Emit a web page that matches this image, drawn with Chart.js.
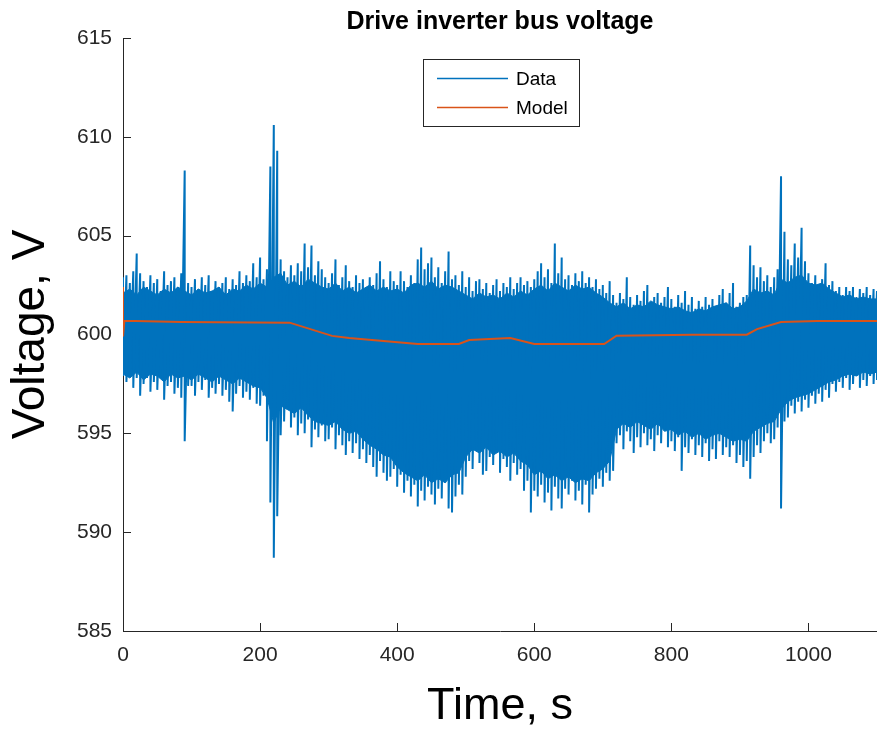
<!DOCTYPE html>
<html>
<head>
<meta charset="utf-8">
<script src="https://cdn.jsdelivr.net/npm/chart.js@4.4.1/dist/chart.umd.min.js"></script>
<style>
  html, body { margin: 0; padding: 0; background: #fff; }
</style>
</head>
<body>
<canvas id="chart" width="877" height="734"></canvas>
<script>
// measured signal, read as upper / lower extremes every 5 s
var sampleTime = [
  0, 5, 10, 15, 20, 25, 30, 35, 40, 45, 50, 55, 60, 65, 70, 75, 80, 85, 90, 95,
  100, 105, 110, 115, 120, 125, 130, 135, 140, 145, 150, 155, 160, 165, 170, 175, 180, 185, 190, 195,
  200, 205, 210, 215, 220, 225, 230, 235, 240, 245, 250, 255, 260, 265, 270, 275, 280, 285, 290, 295,
  300, 305, 310, 315, 320, 325, 330, 335, 340, 345, 350, 355, 360, 365, 370, 375, 380, 385, 390, 395,
  400, 405, 410, 415, 420, 425, 430, 435, 440, 445, 450, 455, 460, 465, 470, 475, 480, 485, 490, 495,
  500, 505, 510, 515, 520, 525, 530, 535, 540, 545, 550, 555, 560, 565, 570, 575, 580, 585, 590, 595,
  600, 605, 610, 615, 620, 625, 630, 635, 640, 645, 650, 655, 660, 665, 670, 675, 680, 685, 690, 695,
  700, 705, 710, 715, 720, 725, 730, 735, 740, 745, 750, 755, 760, 765, 770, 775, 780, 785, 790, 795,
  800, 805, 810, 815, 820, 825, 830, 835, 840, 845, 850, 855, 860, 865, 870, 875, 880, 885, 890, 895,
  900, 905, 910, 915, 920, 925, 930, 935, 940, 945, 950, 955, 960, 965, 970, 975, 980, 985, 990, 995,
  1000, 1005, 1010, 1015, 1020, 1025, 1030, 1035, 1040, 1045, 1050, 1055, 1060, 1065, 1070, 1075, 1080, 1085, 1090, 1095, 1100
];
var dataHigh = [
  602.9, 603.0, 602.6, 603.2, 604.1, 603.1, 602.7, 602.4, 603.0, 602.6, 602.8, 602.2, 603.2, 602.5, 602.7, 602.9, 602.4, 603.1, 608.3, 602.6,
  602.4, 602.8, 602.3, 602.9, 602.5, 603.0, 602.2, 602.7, 602.4, 602.6, 602.9, 602.3, 602.8, 602.5, 603.2, 602.6, 603.0, 602.7, 603.6, 602.9,
  603.9, 602.8, 603.3, 608.5, 610.6, 609.3, 603.8, 603.2, 602.9, 603.5, 603.0, 603.6, 603.2, 604.6, 603.4, 604.5, 603.0, 603.7, 603.3, 602.9,
  602.6, 603.1, 603.8, 602.5, 602.9, 603.5, 602.7, 602.4, 603.0, 602.6, 602.8, 602.3, 602.9, 602.5, 603.1, 603.7, 602.8, 602.4, 603.2, 602.7,
  602.5, 603.2, 602.7, 602.4, 603.0, 602.6, 603.8, 604.4, 603.3, 603.6, 603.9, 602.9, 603.4, 602.6, 603.2, 604.2, 602.8, 603.0, 602.5, 603.2,
  602.4, 602.9, 602.2, 602.7, 602.8, 602.3, 602.6, 602.1, 602.5, 602.8, 602.2, 602.6, 602.4, 602.9, 602.3, 602.6, 602.9, 602.5, 602.7, 602.4,
  602.8, 603.2, 603.6, 602.9, 603.3, 602.6, 604.6, 603.1, 603.9, 602.8, 603.0, 602.5, 603.1, 602.7, 603.2, 602.6, 602.9, 602.4, 602.8, 602.3,
  602.5, 602.1, 602.7, 602.0, 601.6, 602.1, 601.8, 602.9, 601.9, 601.5, 602.0, 601.7, 602.2, 602.5, 601.6, 601.9, 602.1, 601.6, 601.9, 602.4,
  601.8, 601.4, 602.0, 601.6, 602.2, 601.5, 601.9, 601.3, 601.7, 601.4, 601.9, 601.5, 601.8, 601.4, 602.0, 602.3, 601.6, 602.1, 602.6, 601.4,
  601.6, 601.9, 602.0, 604.5, 603.5, 602.9, 603.4, 602.7, 603.0, 602.4, 602.9, 603.3, 608.0, 605.2, 603.8, 603.5, 604.6, 603.9, 605.4, 603.7,
  603.1, 602.6, 603.0, 602.4, 602.8, 603.6, 602.5, 602.7, 602.2, 602.4, 602.0, 602.4, 602.2, 602.4, 601.9, 602.3, 602.1, 602.4, 602.0, 602.3, 602.2
];
var dataLow = [
  597.9, 597.6, 598.0, 597.3, 597.8, 596.9, 597.5, 597.8, 597.1, 597.6, 597.2, 597.8, 596.7, 597.4, 597.6, 597.0, 597.3, 596.8, 594.6, 597.4,
  597.4, 596.9, 597.6, 597.2, 597.7, 596.8, 597.3, 597.0, 597.5, 596.9, 597.2, 596.6, 596.1, 597.0, 597.4, 596.8, 597.1, 596.7, 597.3, 596.5,
  596.4, 596.9, 594.6, 591.5, 588.7, 590.8, 594.9, 595.6, 596.2, 595.3, 595.8, 594.9, 595.5, 595.0, 595.7, 594.3, 595.2, 594.8, 595.4, 594.6,
  594.7, 595.3, 594.2, 594.9, 594.4, 593.9, 594.6, 594.0, 594.5, 593.7, 594.2, 593.5, 593.9, 593.3, 592.8, 593.6, 593.0, 592.6, 592.8, 593.2,
  592.3, 592.9, 592.0, 592.6, 591.8, 592.4, 591.3, 592.1, 591.6, 592.3, 591.9, 591.4, 592.2, 591.7, 592.5, 591.2, 591.0, 591.8, 592.4, 591.9,
  592.8, 593.6, 593.2, 594.1, 593.5, 592.9, 593.1, 593.8, 593.4, 594.2, 593.0, 593.7, 593.3, 592.6, 593.5, 592.9, 593.2, 592.1, 592.6, 591.0,
  592.1, 591.8, 592.4, 591.5, 592.0, 591.1, 592.3, 591.7, 591.2, 592.2, 591.9, 592.6, 591.6, 592.1, 591.4, 592.4, 591.0, 591.9, 592.2, 592.7,
  592.3, 593.0, 592.6, 593.1, 594.5, 594.9, 594.2, 595.1, 594.6, 594.0, 594.8, 594.3, 595.0, 594.4, 594.7, 594.1, 594.9, 594.5, 595.2, 594.3,
  594.6, 594.1, 594.8, 593.1, 594.3, 594.0, 594.7, 593.9, 594.4, 593.8, 594.5, 593.6, 594.2, 593.7, 594.6, 593.9, 594.3, 593.8, 594.4, 593.5,
  593.9, 593.3, 593.6, 592.7, 593.8, 594.4, 594.0, 594.6, 595.0, 594.5, 594.7, 595.3, 591.2, 595.6, 595.8, 596.4, 596.0, 596.6, 596.1, 596.7,
  596.3, 596.9, 596.5, 597.0, 596.6, 597.2, 596.8, 597.5, 597.1, 597.6, 597.3, 597.8, 597.2, 597.5, 597.9, 597.3, 597.7, 597.4, 597.9, 597.5, 597.7
];

// edges of the solid dense part of the signal, every 10 s
var coreTime = [
  0, 10, 20, 30, 40, 50, 60, 70, 80, 90,
  100, 110, 120, 130, 140, 150, 160, 170, 180, 190,
  200, 210, 220, 230, 240, 250, 260, 270, 280, 290,
  300, 310, 320, 330, 340, 350, 360, 370, 380, 390,
  400, 410, 420, 430, 440, 450, 460, 470, 480, 490,
  500, 510, 520, 530, 540, 550, 560, 570, 580, 590,
  600, 610, 620, 630, 640, 650, 660, 670, 680, 690,
  700, 710, 720, 730, 740, 750, 760, 770, 780, 790,
  800, 810, 820, 830, 840, 850, 860, 870, 880, 890,
  900, 910, 920, 930, 940, 950, 960, 970, 980, 990,
  1000, 1010, 1020, 1030, 1040, 1050, 1060, 1070, 1080, 1090, 1100
];
var coreHigh = [
  602.1, 602.3, 602.0, 602.4, 602.2, 602.0, 602.3, 602.1, 602.4, 602.2,
  602.0, 602.3, 602.1, 602.2, 602.4, 602.0, 602.3, 602.2, 602.5, 602.3,
  602.6, 602.4, 602.9, 603.1, 602.5, 602.7, 602.4, 602.8, 602.6, 602.4,
  602.3, 602.6, 602.2, 602.4, 602.1, 602.3, 602.5, 602.2, 602.4, 602.2,
  602.3, 602.1, 602.5, 602.6, 602.4, 602.7, 602.3, 602.5, 602.4, 602.2,
  602.0, 601.8, 602.1, 601.9, 602.0, 601.8, 602.1, 601.9, 602.2, 602.0,
  602.3, 602.5, 602.2, 602.6, 602.4, 602.2, 602.5, 602.3, 602.4, 602.1,
  601.9, 601.6, 601.4, 601.6, 601.3, 601.5, 601.4, 601.7, 601.5, 601.4,
  601.3, 601.4, 601.2, 601.1, 601.3, 601.2, 601.4, 601.5, 601.6, 601.3,
  601.4, 601.7, 602.3, 602.1, 602.2, 602.0, 602.8, 602.6, 602.9, 603.0,
  602.6, 602.5, 602.6, 602.3, 602.1, 601.9, 602.0, 601.8, 601.9, 601.8, 601.8
];
var coreLow = [
  598.0, 597.8, 598.1, 597.7, 598.0, 597.9, 597.6, 598.0, 597.8, 597.9,
  597.7, 598.0, 597.8, 597.6, 597.9, 597.7, 597.5, 597.8, 597.6, 597.4,
  597.3, 596.8, 595.5, 596.4, 596.2, 596.0, 596.3, 595.9, 595.6, 595.5,
  595.4, 595.6, 595.2, 595.0, 595.1, 594.7, 594.4, 594.2, 593.9, 593.8,
  593.3, 593.0, 592.8, 592.6, 592.9, 592.5, 592.7, 592.5, 592.9, 593.0,
  593.8, 594.2, 594.0, 594.3, 593.9, 594.1, 593.8, 594.0, 593.6, 593.4,
  592.9, 593.1, 592.7, 592.9, 592.6, 592.8, 592.5, 592.7, 592.6, 593.0,
  593.2, 593.6, 595.2, 595.5, 595.3, 595.6, 595.4, 595.2, 595.5, 595.1,
  595.2, 594.9, 595.1, 594.8, 595.0, 594.7, 594.9, 595.0, 594.8, 594.6,
  594.7, 594.6, 595.1, 595.3, 595.5, 595.6, 596.2, 596.6, 596.8, 596.9,
  597.0, 597.2, 597.4, 597.6, 597.7, 597.9, 598.0, 597.9, 598.1, 598.0, 598.1
];

var modelTime = [0, 0, 2, 85, 243, 305, 330, 430, 490, 505, 565, 600, 702, 720, 830, 910, 925, 960, 1013, 1100];
var modelVolt = [602.4, 599.9, 600.7, 600.63, 600.6, 599.93, 599.82, 599.52, 599.52, 599.72, 599.82, 599.52, 599.52, 599.94, 599.99, 599.99, 600.27, 600.63, 600.68, 600.68];

var xTicks = [0, 200, 400, 600, 800, 1000];
var yTicks = [585, 590, 595, 600, 605, 610, 615];

var blue = '#0072BD';
var orange = '#D95319';
var axisColor = '#262626';

Chart.defaults.font.family = "'Liberation Sans', Arial, Helvetica, sans-serif";

var dataPoints = [];
sampleTime.forEach(function (t, i) {
  dataPoints.push({x: t, y: dataHigh[i]});
  dataPoints.push({x: t, y: dataLow[i]});
});
var corePointsHigh = coreTime.map(function (t, i) { return {x: t, y: coreHigh[i]}; });
var corePointsLow = coreTime.map(function (t, i) { return {x: t, y: coreLow[i]}; });
var modelPoints = modelTime.map(function (t, i) { return {x: t, y: modelVolt[i]}; });

// MATLAB style ticks pointing into the plot
var innerTicks = {
  id: 'innerTicks',
  beforeDatasetsDraw: function (chart) {
    var ctx = chart.ctx, a = chart.chartArea;
    var xs = chart.scales.x, ys = chart.scales.y;
    ctx.save();
    ctx.strokeStyle = axisColor;
    ctx.lineWidth = 1;
    ctx.beginPath();
    xTicks.forEach(function (v) {
      var px = Math.round(xs.getPixelForValue(v)) + 0.5;
      ctx.moveTo(px, a.bottom);
      ctx.lineTo(px, a.bottom - 8);
    });
    yTicks.forEach(function (v) {
      var py = Math.round(ys.getPixelForValue(v)) + 0.5;
      ctx.moveTo(a.left, py);
      ctx.lineTo(a.left + 8, py);
    });
    ctx.stroke();
    ctx.restore();
  }
};

// boxed legend inside the axes
var boxLegend = {
  id: 'boxLegend',
  afterDraw: function (chart) {
    var ctx = chart.ctx;
    var rows = [{ds: 0, y: 78}, {ds: 1, y: 107}];
    ctx.save();
    ctx.fillStyle = '#fff';
    ctx.fillRect(423.5, 59.5, 156, 67);
    ctx.strokeStyle = axisColor;
    ctx.lineWidth = 1;
    ctx.strokeRect(423.5, 59.5, 156, 67);
    ctx.font = "19px 'Liberation Sans', Arial, sans-serif";
    ctx.textBaseline = 'middle';
    ctx.textAlign = 'left';
    rows.forEach(function (r) {
      var ds = chart.data.datasets[r.ds];
      ctx.strokeStyle = ds.borderColor;
      ctx.lineWidth = 1.5;
      ctx.beginPath();
      ctx.moveTo(437, r.y + 0.5);
      ctx.lineTo(508, r.y + 0.5);
      ctx.stroke();
      ctx.fillStyle = '#000';
      ctx.fillText(ds.label, 516, r.y + 2);
    });
    ctx.restore();
  }
};

var chart = new Chart('chart', {
  type: 'line',
  data: {
    datasets: [
      {
        label: 'Data',
        data: dataPoints,
        borderColor: blue,
        borderWidth: 2,
        pointRadius: 0,
        tension: 0,
        fill: false,
        order: 1
      },
      {
        label: 'Model',
        data: modelPoints,
        borderColor: orange,
        borderWidth: 2,
        pointRadius: 0,
        tension: 0,
        fill: false,
        order: 0
      },
      {
        label: 'core high',
        data: corePointsHigh,
        borderColor: blue,
        backgroundColor: blue,
        borderWidth: 1,
        pointRadius: 0,
        tension: 0,
        fill: '+1',
        order: 2
      },
      {
        label: 'core low',
        data: corePointsLow,
        borderColor: blue,
        borderWidth: 1,
        pointRadius: 0,
        tension: 0,
        fill: false,
        order: 2
      }
    ]
  },
  options: {
    responsive: false,
    animation: false,
    devicePixelRatio: 1,
    events: [],
    layout: {padding: 0},
    plugins: {
      legend: {display: false},
      tooltip: {enabled: false},
      title: {
        display: true,
        text: 'Drive inverter bus voltage',
        color: '#000',
        fullSize: false,
        font: {size: 25, weight: 'bold'},
        padding: {top: 7, bottom: 1}
      }
    },
    scales: {
      x: {
        type: 'linear',
        min: 0,
        max: 1100,
        grid: {display: false, drawTicks: false},
        border: {display: true, color: axisColor, width: 1},
        ticks: {
          color: axisColor,
          font: {size: 21},
          padding: 12,
          maxRotation: 0,
          autoSkip: false,
          callback: function (v) { return String(v); }
        },
        afterBuildTicks: function (s) { s.ticks = xTicks.map(function (v) { return {value: v}; }); },
        afterFit: function (s) { s.height = 103; },
        title: {display: true, text: 'Time, s', color: '#000', font: {size: 45}, padding: {top: 0, bottom: 0}}
      },
      y: {
        type: 'linear',
        min: 585,
        max: 615,
        grid: {display: false, drawTicks: false},
        border: {display: true, color: axisColor, width: 1},
        ticks: {
          color: axisColor,
          font: {size: 21},
          padding: 11,
          autoSkip: false,
          callback: function (v) { return String(v); }
        },
        afterBuildTicks: function (s) { s.ticks = yTicks.map(function (v) { return {value: v}; }); },
        afterFit: function (s) { s.width = 123; },
        title: {display: true, text: 'Voltage, V', color: '#000', font: {size: 46}, padding: {top: 4, bottom: 0}}
      }
    }
  },
  plugins: [innerTicks, boxLegend]
});
</script>
</body>
</html>
